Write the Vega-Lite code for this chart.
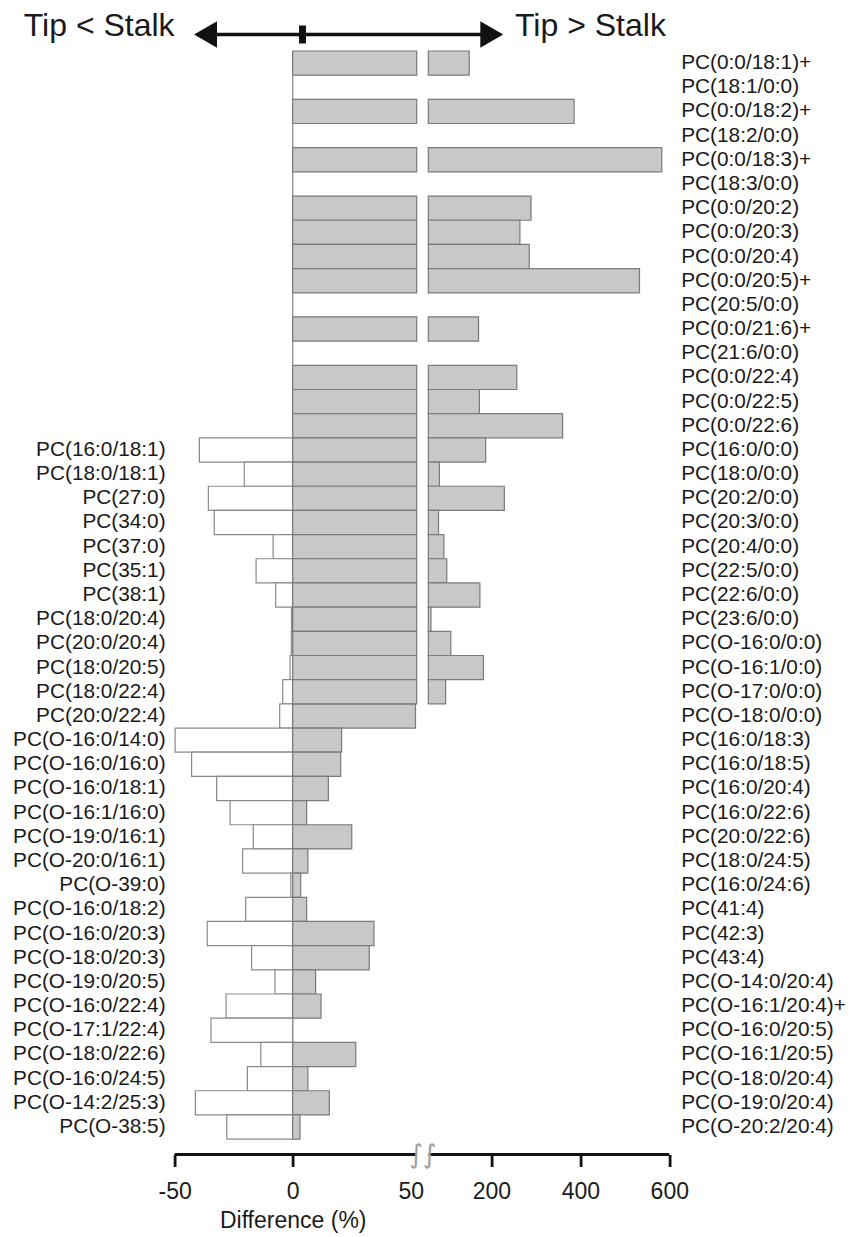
{
  "$schema": "https://vega.github.io/schema/vega-lite/v6.json",
  "width": 494.7,
  "height": 1127.7,
  "autosize": {"type": "none"},
  "padding": {"left": 174.6, "top": 26.8, "right": 186.7, "bottom": 82.5},
  "background": "white",
  "config": {"view": {"stroke": null}, "font": "Liberation Sans"},
  "data": {"values": [
    {"r": " ", "rv": null, "l": "", "lv": null},
    {"r": "PC(0:0/18:1)+", "rv": 150, "l": "", "lv": null},
    {"r": "PC(18:1/0:0)", "rv": null, "l": "", "lv": null},
    {"r": "PC(0:0/18:2)+", "rv": 386, "l": "", "lv": null},
    {"r": "PC(18:2/0:0)", "rv": null, "l": "", "lv": null},
    {"r": "PC(0:0/18:3)+", "rv": 583, "l": "", "lv": null},
    {"r": "PC(18:3/0:0)", "rv": null, "l": "", "lv": null},
    {"r": "PC(0:0/20:2)", "rv": 289, "l": "", "lv": null},
    {"r": "PC(0:0/20:3)", "rv": 264, "l": "", "lv": null},
    {"r": "PC(0:0/20:4)", "rv": 285, "l": "", "lv": null},
    {"r": "PC(0:0/20:5)+", "rv": 533, "l": "", "lv": null},
    {"r": "PC(20:5/0:0)", "rv": null, "l": "", "lv": null},
    {"r": "PC(0:0/21:6)+", "rv": 171, "l": "", "lv": null},
    {"r": "PC(21:6/0:0)", "rv": null, "l": "", "lv": null},
    {"r": "PC(0:0/22:4)", "rv": 257, "l": "", "lv": null},
    {"r": "PC(0:0/22:5)", "rv": 173, "l": "", "lv": null},
    {"r": "PC(0:0/22:6)", "rv": 360, "l": "", "lv": null},
    {"r": "PC(16:0/0:0)", "rv": 187, "l": "PC(16:0/18:1)", "lv": -39.5},
    {"r": "PC(18:0/0:0)", "rv": 83, "l": "PC(18:0/18:1)", "lv": -20.5},
    {"r": "PC(20:2/0:0)", "rv": 229, "l": "PC(27:0)", "lv": -35.7},
    {"r": "PC(20:3/0:0)", "rv": 81, "l": "PC(34:0)", "lv": -33.2},
    {"r": "PC(20:4/0:0)", "rv": 93, "l": "PC(37:0)", "lv": -8.3},
    {"r": "PC(22:5/0:0)", "rv": 99.5, "l": "PC(35:1)", "lv": -15.5},
    {"r": "PC(22:6/0:0)", "rv": 174, "l": "PC(38:1)", "lv": -7.2},
    {"r": "PC(23:6/0:0)", "rv": 64, "l": "PC(18:0/20:4)", "lv": -0.5},
    {"r": "PC(O-16:0/0:0)", "rv": 108.5, "l": "PC(20:0/20:4)", "lv": -0.6},
    {"r": "PC(O-16:1/0:0)", "rv": 182, "l": "PC(18:0/20:5)", "lv": -1.1},
    {"r": "PC(O-17:0/0:0)", "rv": 97, "l": "PC(18:0/22:4)", "lv": -4.2},
    {"r": "PC(O-18:0/0:0)", "rv": 52, "l": "PC(20:0/22:4)", "lv": -5.5},
    {"r": "PC(16:0/18:3)", "rv": 20.7, "l": "PC(O-16:0/14:0)", "lv": -49.8},
    {"r": "PC(16:0/18:5)", "rv": 20.3, "l": "PC(O-16:0/16:0)", "lv": -42.8},
    {"r": "PC(16:0/20:4)", "rv": 15.1, "l": "PC(O-16:0/18:1)", "lv": -32.2},
    {"r": "PC(16:0/22:6)", "rv": 5.9, "l": "PC(O-16:1/16:0)", "lv": -26.5},
    {"r": "PC(20:0/22:6)", "rv": 25.0, "l": "PC(O-19:0/16:1)", "lv": -16.7},
    {"r": "PC(18:0/24:5)", "rv": 6.4, "l": "PC(O-20:0/16:1)", "lv": -21.2},
    {"r": "PC(16:0/24:6)", "rv": 3.4, "l": "PC(O-39:0)", "lv": -0.8},
    {"r": "PC(41:4)", "rv": 5.9, "l": "PC(O-16:0/18:2)", "lv": -19.9},
    {"r": "PC(42:3)", "rv": 34.4, "l": "PC(O-16:0/20:3)", "lv": -36.2},
    {"r": "PC(43:4)", "rv": 32.4, "l": "PC(O-18:0/20:3)", "lv": -17.4},
    {"r": "PC(O-14:0/20:4)", "rv": 9.7, "l": "PC(O-19:0/20:5)", "lv": -7.5},
    {"r": "PC(O-16:1/20:4)+", "rv": 12.0, "l": "PC(O-16:0/22:4)", "lv": -28.2},
    {"r": "PC(O-16:0/20:5)", "rv": null, "l": "PC(O-17:1/22:4)", "lv": -34.6},
    {"r": "PC(O-16:1/20:5)", "rv": 26.7, "l": "PC(O-18:0/22:6)", "lv": -13.5},
    {"r": "PC(O-18:0/20:4)", "rv": 6.4, "l": "PC(O-16:0/24:5)", "lv": -19.2},
    {"r": "PC(O-19:0/20:4)", "rv": 15.5, "l": "PC(O-14:2/25:3)", "lv": -41.2},
    {"r": "PC(O-20:2/20:4)", "rv": 3.1, "l": "PC(O-38:5)", "lv": -27.9}
  ]},
  "encoding": {
    "y": {
      "field": "r", "type": "nominal", "sort": null,
      "scale": {"paddingInner": 0, "paddingOuter": 0.3185, "align": 0},
      "axis": {"orient": "right", "title": null, "domain": false, "ticks": false, "tickSize": 0, "grid": false,
               "labelPadding": 11.4, "labelFont": "Liberation Sans", "labelFontSize": 20.8, "labelColor": "#1a1a1a", "labelLimit": 400}
    }
  },
  "layer": [
    {
      "mark": {"type": "text", "align": "right", "baseline": "middle", "dx": -9, "font": "Liberation Sans", "fontSize": 20.8, "color": "#1a1a1a"},
      "encoding": {
        "x": {"datum": -50, "type": "quantitative", "title": "Difference (%)",
              "scale": {"domain": [-50, 52.5, 58, 600], "range": [0, 242.1, 253.7, 494.7], "nice": false, "zero": false},
              "axis": {"values": [-50, 0, 50, 200, 400, 600], "domain": false, "grid": false,
                       "tickSize": 12, "tickWidth": 2.8, "tickColor": "#111111",
                       "tickOpacity": {"condition": {"test": "datum.value === 50", "value": 0}, "value": 1},
                       "labelFont": "Liberation Sans", "labelFontSize": 23, "labelColor": "#1a1a1a", "labelPadding": 14,
                       "labelFlush": false, "labelOverlap": false, "labelBound": false,
                       "labelExpr": "replace(datum.label, '\u2212', '-')",
                       "title": "Difference (%)", "titleFont": "Liberation Sans", "titleFontSize": 23, "titleFontWeight": "normal",
                       "titleColor": "#1a1a1a", "titlePadding": 6, "titleX": 118.1, "titleAlign": "center"}},
        "text": {"field": "l"}
      }
    },
    {
      "transform": [{"filter": "datum.r !== ' '"}],
      "mark": {"type": "bar", "fill": "white", "fillOpacity": 0, "stroke": "#8a8a8a", "strokeWidth": 1.2},
      "encoding": {
        "x": {"datum": 0, "type": "quantitative", "title": "Difference (%)"},
        "x2": {"datum": 0}
      }
    },
    {
      "transform": [{"filter": "isValid(datum.lv)"}],
      "mark": {"type": "bar", "fill": "white", "stroke": "#8a8a8a", "strokeWidth": 1.2},
      "encoding": {
        "x": {"field": "lv", "type": "quantitative", "title": "Difference (%)"},
        "x2": {"datum": 0}
      }
    },
    {
      "transform": [{"filter": "isValid(datum.rv) && datum.rv <= 52.5"}],
      "mark": {"type": "bar", "fill": "#c8c8c8", "stroke": "#7a7a7a", "strokeWidth": 1.2},
      "encoding": {
        "x": {"field": "rv", "type": "quantitative", "title": "Difference (%)"},
        "x2": {"datum": 0}
      }
    },
    {
      "transform": [{"filter": "isValid(datum.rv) && datum.rv > 52.5"}],
      "mark": {"type": "bar", "fill": "#c8c8c8", "stroke": "#7a7a7a", "strokeWidth": 1.2},
      "encoding": {
        "x": {"datum": 0, "type": "quantitative"},
        "x2": {"datum": 52.5}
      }
    },
    {
      "transform": [{"filter": "isValid(datum.rv) && datum.rv > 58"}],
      "mark": {"type": "bar", "fill": "#c8c8c8", "stroke": "#7a7a7a", "strokeWidth": 1.2},
      "encoding": {
        "x": {"field": "rv", "type": "quantitative", "title": "Difference (%)"},
        "x2": {"datum": 58}
      }
    },
    {
      "transform": [{"filter": "datum.r === ' '"}],
      "mark": {"type": "text", "align": "right", "baseline": "alphabetic", "dy": -2.4, "font": "Liberation Sans", "fontSize": 32, "color": "#1a1a1a"},
      "encoding": {
        "x": {"datum": -50, "type": "quantitative"},
        "text": {"value": "Tip < Stalk"}
      }
    },
    {
      "transform": [{"filter": "datum.r === ' '"}],
      "mark": {"type": "text", "align": "left", "baseline": "alphabetic", "dy": -2.4, "font": "Liberation Sans", "fontSize": 32, "color": "#1a1a1a"},
      "encoding": {
        "x": {"datum": 253, "type": "quantitative"},
        "text": {"value": "Tip > Stalk"}
      }
    },
    {
      "transform": [{"filter": "datum.r === ' '"}],
      "mark": {"type": "rule", "color": "#111111", "strokeWidth": 3.3, "yOffset": -4.4},
      "encoding": {
        "x": {"datum": -36.9, "type": "quantitative"},
        "x2": {"datum": 200.7}
      }
    },
    {
      "transform": [{"filter": "datum.r === ' '"}],
      "mark": {"type": "point", "shape": "triangle-left", "filled": true, "size": 700, "color": "#111111", "opacity": 1, "yOffset": -4.4},
      "encoding": {
        "x": {"datum": -36.9, "type": "quantitative"}
      }
    },
    {
      "transform": [{"filter": "datum.r === ' '"}],
      "mark": {"type": "point", "shape": "triangle-right", "filled": true, "size": 700, "color": "#111111", "opacity": 1, "yOffset": -4.4},
      "encoding": {
        "x": {"datum": 200.7, "type": "quantitative"}
      }
    },
    {
      "transform": [{"filter": "datum.r === ' '"}],
      "mark": {"type": "tick", "color": "#111111", "thickness": 7, "size": 18, "opacity": 1, "yOffset": -4.4},
      "encoding": {
        "x": {"datum": 4.15, "type": "quantitative"}
      }
    },
    {
      "transform": [{"filter": "datum.r === ' '"}],
      "mark": {"type": "rule", "color": "#111111", "strokeWidth": 2.8},
      "encoding": {
        "x": {"datum": -50, "type": "quantitative"},
        "x2": {"datum": 52.5},
        "y": {"value": "height"}
      }
    },
    {
      "transform": [{"filter": "datum.r === ' '"}],
      "mark": {"type": "rule", "color": "#111111", "strokeWidth": 2.8},
      "encoding": {
        "x": {"datum": 58.5, "type": "quantitative"},
        "x2": {"datum": 600},
        "y": {"value": "height"}
      }
    },
    {
      "transform": [{"filter": "datum.r === ' '"}],
      "mark": {"type": "text", "align": "center", "baseline": "middle", "font": "DejaVu Sans", "fontSize": 26, "color": "#a0a0a0"},
      "encoding": {
        "x": {"datum": 55.4, "type": "quantitative"},
        "y": {"value": "height"},
        "text": {"value": "\u222b\u222b"}
      }
    }
  ]
}
